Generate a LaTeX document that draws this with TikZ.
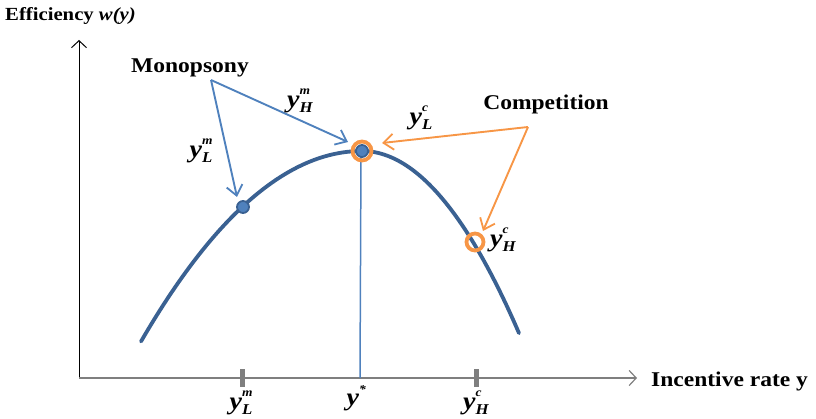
\documentclass[tikz,border=0pt]{standalone}
\usepackage{fontspec}
\setmainfont{Liberation Serif}[FakeStretch=1.12]
\usetikzlibrary{arrows.meta}
\definecolor{myblue}{HTML}{4F81BD}
\definecolor{curveblue}{HTML}{3A6192}
\definecolor{myorange}{HTML}{F79646}
\definecolor{axisgray}{HTML}{7F7F7F}
\newcommand\ylab[2]{\fontsize{25}{25}\selectfont\textbf{\textit{y}}\makebox[0pt][l]{\raisebox{0.5em}{\fontsize{12}{12}\selectfont\textbf{\textit{#1}}}}\raisebox{-0.2em}{\fontsize{15}{15}\selectfont\textbf{\textit{#2}}}}
\begin{document}
\begin{tikzpicture}[x=1pt,y=-1pt,
  lbl/.style={inner sep=0pt, font=\bfseries\fontsize{21}{23}\selectfont},
  mlab/.style={inner sep=0pt},
  barb/.style={-{Straight Barb[length=10pt,width=16pt,line width=1.8pt]}},
  marr/.style={myblue, line width=1.9pt, barb},
  oarr/.style={myorange, line width=1.9pt, barb},
  tickmark/.style={axisgray, line width=5pt},
  dotmark/.style={circle, fill=myblue, draw=curveblue, line width=1.8pt, minimum size=12pt, inner sep=0pt},
  ringmark/.style={circle, draw=myorange, line width=3.8pt, inner sep=0pt}]
\useasboundingbox (0,0) rectangle (816,419);
% axes
\coordinate (O) at (79,378);
\coordinate (ytop) at (79,40);
\coordinate (xend) at (637,378);
\draw[black, line width=1pt, -{Straight Barb[length=7pt,width=15pt,line width=1pt]}] (O) -- (ytop);
\draw[axisgray, line width=2pt, -{Straight Barb[length=7pt,width=15pt,line width=1.2pt]}] (O) -- (xend);
\node[anchor=west, inner sep=0pt, font=\bfseries\fontsize{18.5}{20}\selectfont] (ylabel) at (5,16) {Efficiency \textit{w(y)}};
\node[lbl, anchor=west] (xlabel) at (651,381) {Incentive rate y};
% ticks
\coordinate (tL1) at (242,369); \coordinate (tL2) at (242,387);
\coordinate (tH1) at (476,369); \coordinate (tH2) at (476,387);
\draw[tickmark] (tL1) -- (tL2);
\draw[tickmark] (tH1) -- (tH2);
% curve: two half-parabolas meeting at the peak
\draw[curveblue, line width=3.8pt, line cap=round]
  plot[domain=141:362, samples=60] (\x, {151+39*((\x-362)/100)^2})
  -- plot[domain=362:519, samples=50] (\x, {151+73.9*((\x-362)/100)^2});
% vertical line
\coordinate (xs) at (360,378);
\coordinate (peak) at (361,151);
\draw[myblue, line width=1.5pt] (peak) -- (xs);
% markers
\node[ringmark, minimum size=19pt] (ringS) at (362,151) {};
\node[dotmark] (dotS) at (362,151) {};
\node[dotmark] (dotL) at (243,207) {};
\node[ringmark, minimum size=17pt] (ringH) at (475,242) {};
% labels
\node[lbl] (mono) at (190,68) {Monopsony};
\node[lbl] (comp) at (546,104) {Competition};
\coordinate (monoA) at (211,80);
\coordinate (compA) at (528,127);
\coordinate (tipL) at (237,197);
\coordinate (tipS1) at (348,142);
\coordinate (tipS2) at (382,143);
\coordinate (tipH) at (483,231);
\draw[marr] (monoA) -- (tipL);
\draw[marr] (monoA) -- (tipS1);
\draw[oarr] (compA) -- (tipS2);
\draw[oarr] (compA) -- (tipH);
\node[mlab] (lLm) at (201,151) {\ylab{m}{L}};
\node[mlab] (lHm) at (300,101) {\ylab{m}{H}};
\node[mlab] (lLc) at (421,118) {\ylab{c}{L}};
\node[mlab] (lHc) at (503,240) {\ylab{c}{H}};
\node[mlab] (aLm) at (241,403) {\ylab{m}{L}};
\node[mlab] (aS) at (358,398) {\ylab{*}{\phantom{L}}};
\node[mlab] (aHc) at (476,403) {\ylab{c}{H}};
\end{tikzpicture}
\end{document}
